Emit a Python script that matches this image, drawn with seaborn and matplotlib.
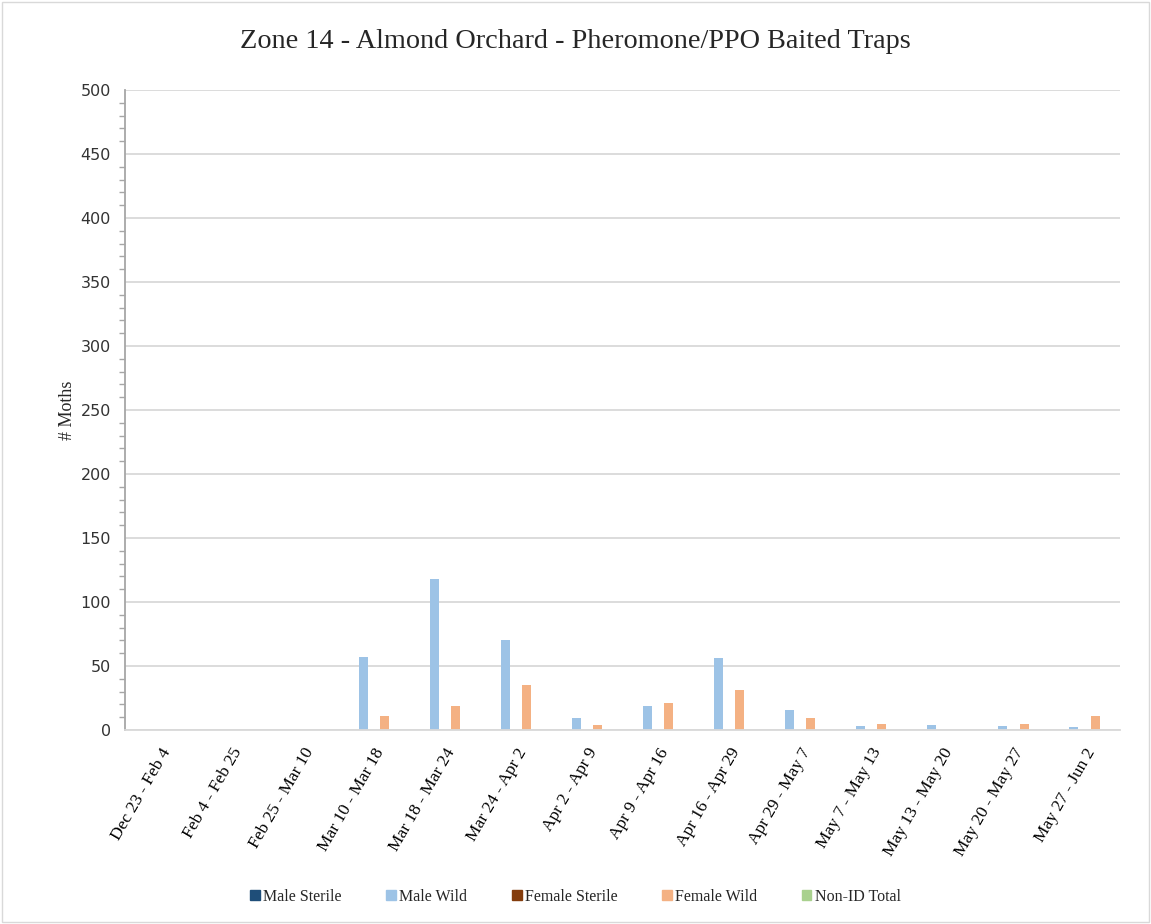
import numpy as np
import pandas as pd
import matplotlib
matplotlib.use("Agg")
import matplotlib.pyplot as plt
import matplotlib.ticker as mtick
from matplotlib.patches import Rectangle
import seaborn as sns

# ============================================================
# DATA
# ============================================================
periods = [
    "Dec 23 - Feb 4", "Feb 4 - Feb 25", "Feb 25 - Mar 10", "Mar 10 - Mar 18",
    "Mar 18 - Mar 24", "Mar 24 - Apr 2", "Apr 2 - Apr 9", "Apr 9 - Apr 16",
    "Apr 16 - Apr 29", "Apr 29 - May 7", "May 7 - May 13", "May 13 - May 20",
    "May 20 - May 27", "May 27 - Jun 2",
]
series_names = ["Male Sterile", "Male Wild", "Female Sterile", "Female Wild", "Non-ID Total"]
male_sterile = [0, 0, 0, 0, 0, 0, 0, 0, 0, 0, 0, 0, 0, 0]
male_wild = [0, 0, 0, 57, 118, 70, 9, 19, 56, 16, 3, 4, 3, 2]
female_sterile = [0, 0, 0, 0, 0, 0, 0, 0, 0, 0, 0, 0, 0, 0]
female_wild = [0, 0, 0, 11, 19, 35, 4, 21, 31, 9, 5, 0, 5, 11]
non_id_total = [0, 0, 0, 0, 0, 0, 0, 0, 0, 0, 0, 0, 0, 0]

COLORS = ["#1f4e79", "#9dc3e6", "#843c0c", "#f4b183", "#a9d18e"]
SERIF = "Liberation Serif"

df = pd.DataFrame({
    "Period": periods * 5,
    "Series": np.repeat(series_names, len(periods)),
    "Moths": male_sterile + male_wild + female_sterile + female_wild + non_id_total,
})

sns.set_theme(style="white")

fig = plt.figure(figsize=(11.51, 9.24), dpi=100)
ax = fig.add_axes([125 / 1151, 1 - 730 / 924, (1120 - 125) / 1151, (730 - 90) / 924])

sns.barplot(
    data=df, x="Period", y="Moths", hue="Series", order=periods,
    hue_order=series_names, palette=COLORS, saturation=1, width=0.75, gap=0.15,
    linewidth=0, errorbar=None, ax=ax, legend=False,
)

ax.set_ylim(0, 500)
ax.set_xlim(-0.5, len(periods) - 0.5)
ax.yaxis.set_major_locator(mtick.MultipleLocator(50))
ax.yaxis.set_minor_locator(mtick.MultipleLocator(10))
ax.grid(axis="y", color="#d9d9d9", linewidth=1.3)
ax.set_axisbelow(True)

for s in ["top", "right"]:
    ax.spines[s].set_visible(False)
ax.spines["left"].set_color("#a6a6a6")
ax.spines["left"].set_linewidth(1.3)
ax.spines["bottom"].set_color("#d9d9d9")
ax.spines["bottom"].set_linewidth(1.3)

ax.tick_params(axis="y", which="major", length=0, pad=10, labelcolor="#333333")
ax.tick_params(axis="y", which="minor", left=True, length=4, width=1, color="#a6a6a6", direction="out")
ax.tick_params(axis="x", length=0, pad=11)
for lbl in ax.get_yticklabels():
    lbl.set_family("DejaVu Sans")
    lbl.set_fontsize(11.5)

ax.set_xticks(range(len(periods)))
ax.set_xticklabels(periods, rotation=60, ha="right", rotation_mode="anchor",
                   family=SERIF, fontsize=12.5, color="#000000")
ax.set_xlabel("")
ax.set_ylabel("# Moths", family=SERIF, fontsize=13, labelpad=3)

fig.text(0.5, 1 - 42 / 924, "Zone 14 - Almond Orchard - Pheromone/PPO Baited Traps",
         ha="center", va="center", family=SERIF, fontsize=20.3)

handles = [Rectangle((0, 0), 1, 1, color=c) for c in COLORS]
fig.legend(handles, series_names, loc="center", bbox_to_anchor=(0.5, 1 - 897 / 924),
           ncol=5, frameon=False, prop={"family": SERIF, "size": 11.5},
           handlelength=0.6, handleheight=0.6, handletextpad=0.2, columnspacing=2.8)

fig.patches.append(Rectangle((0.002, 0.002), 0.996, 0.996, transform=fig.transFigure,
                             fill=False, edgecolor="#d9d9d9", linewidth=1))

fig.savefig("out.png", dpi=100)
